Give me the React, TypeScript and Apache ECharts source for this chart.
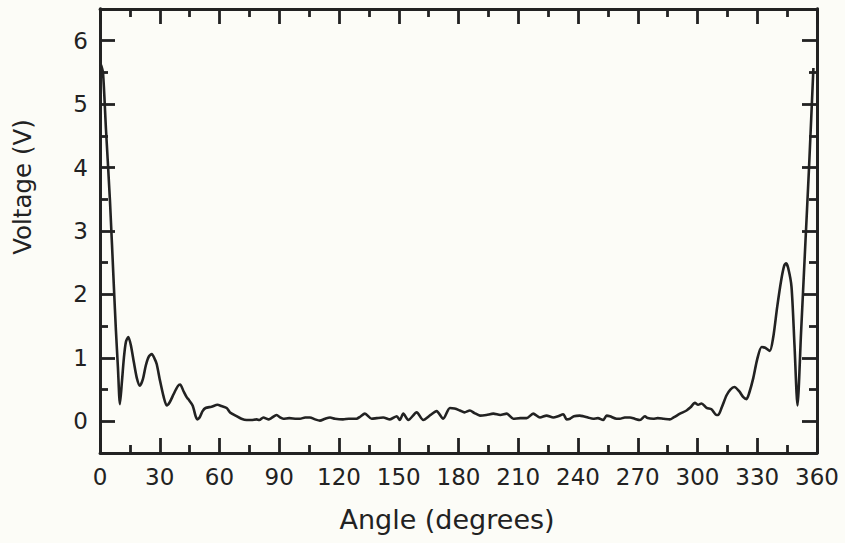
import React, { useEffect, useRef } from "react";
import * as echarts from "echarts";

const angles = [
  0.5, 1.5, 3, 5, 7, 8, 9, 10, 11, 12, 13, 14.2, 15.5, 17, 18.5, 20, 21.5, 23, 24.5, 26, 27.5, 28.5, 30, 32,
  33.5, 35, 37, 39, 40.2, 42, 43.5, 44.3, 46.5, 48, 48.8, 50, 51.5, 53, 56, 59, 61, 63.6, 65.3, 68.6, 71,
  73.6, 76, 78.6, 80, 82, 84.5, 86, 88.7, 90.4, 92, 95, 98.7, 100.4, 103, 105.4, 108, 110.4, 113, 115.5,
  118, 122, 125, 128.8, 130.5, 133, 136.4, 139, 142.2, 145.6, 149, 150.5, 152.3, 154.8, 159, 162.3, 166,
  169, 172.3, 175.7, 178, 180.7, 183, 185.7, 188, 190.8, 194, 197.5, 201, 204.2, 207.5, 211, 214.2, 217.5,
  220.9, 224.2, 227.6, 230, 232.6, 234.3, 236, 238, 240.9, 242.6, 245, 247.6, 250, 252.6, 254.4, 256,
  259.4, 261, 263.5, 266.1, 268.5, 271.1, 273.6, 275, 277.8, 280, 283, 286.1, 288, 291.2, 294.5, 296.5,
  298.7, 300.3, 302, 304.6, 307, 309.6, 310.4, 312.2, 314.6, 316.5, 318.5, 321, 323, 324.6, 326, 328, 330,
  332.2, 334, 336.3, 338, 340, 342, 343.5, 344.4, 345.5, 347.2, 348.7, 350.2, 352, 354, 356, 358.2
];

const voltages = [
  5.62, 5.5, 4.6, 3.48, 2.1, 1.43, 0.85, 0.27, 0.62, 1.0, 1.25, 1.33, 1.2, 0.93, 0.68, 0.56, 0.66, 0.88,
  1.02, 1.06, 0.98, 0.9, 0.66, 0.38, 0.25, 0.3, 0.43, 0.55, 0.58, 0.47, 0.38, 0.35, 0.25, 0.08, 0.03, 0.06,
  0.16, 0.21, 0.23, 0.26, 0.24, 0.21, 0.14, 0.08, 0.04, 0.02, 0.02, 0.03, 0.02, 0.06, 0.03, 0.05, 0.1, 0.06,
  0.04, 0.05, 0.04, 0.04, 0.06, 0.06, 0.03, 0.01, 0.04, 0.06, 0.04, 0.03, 0.04, 0.04, 0.07, 0.12, 0.04, 0.05,
  0.06, 0.03, 0.08, 0.02, 0.12, 0.02, 0.14, 0.02, 0.1, 0.16, 0.04, 0.21, 0.2, 0.17, 0.14, 0.17, 0.13, 0.09,
  0.1, 0.12, 0.1, 0.12, 0.04, 0.05, 0.05, 0.12, 0.06, 0.09, 0.06, 0.08, 0.11, 0.03, 0.04, 0.08, 0.09, 0.08,
  0.06, 0.04, 0.05, 0.02, 0.09, 0.08, 0.04, 0.04, 0.06, 0.06, 0.04, 0.02, 0.08, 0.05, 0.04, 0.05, 0.04, 0.03,
  0.06, 0.12, 0.17, 0.22, 0.29, 0.26, 0.28, 0.21, 0.19, 0.1, 0.1, 0.22, 0.41, 0.5, 0.54, 0.47, 0.38, 0.35,
  0.45, 0.68, 0.98, 1.17, 1.16, 1.11, 1.32, 1.8, 2.22, 2.45, 2.49, 2.42, 2.12, 1.2, 0.25, 1.4, 2.7, 4.0, 5.57
];

const xTickValues = [0, 30, 60, 90, 120, 150, 180, 210, 240, 270, 300, 330, 360];
const yMajorTicks = [0, 1, 2, 3, 4, 5, 6];
const yMinorTicks = [0.5, 1.5, 2.5, 3.5, 4.5, 5.5];
const xTitle = "Angle (degrees)";
const yTitle = "Voltage (V)";

const INK = "#222222";
const FONT = "DejaVu Sans";

export default function App() {
  const ref = useRef<HTMLDivElement>(null);
  useEffect(() => {
    if (!ref.current) return;
    const chart = echarts.init(ref.current, null, { renderer: "svg" });
    const lineStyle = { color: INK, width: 2.8 };
    const xBase = {
      type: "value",
      min: xTickValues[0],
      max: xTickValues[xTickValues.length - 1],
      interval: 30,
      splitLine: { show: false },
      axisLine: { show: true, onZero: false, lineStyle },
      axisTick: { show: true, inside: true, length: 15, lineStyle },
      minorTick: { show: true, splitNumber: 2, length: 8, lineStyle },
      minorSplitLine: { show: false },
    };
    const yBase = (pos: string, major: boolean, labels: boolean) => ({
      type: "value",
      position: pos,
      min: -0.5,
      max: 6.5,
      splitLine: { show: false },
      axisLine: { show: true, onZero: false, lineStyle },
      axisTick: {
        show: true,
        inside: true,
        length: major ? 15 : 8,
        customValues: major ? yMajorTicks : yMinorTicks,
        lineStyle,
      },
      axisLabel: labels
        ? {
            show: true,
            customValues: yMajorTicks,
            margin: 12,
            color: INK,
            fontFamily: FONT,
            fontSize: 23,
          }
        : { show: false },
    });
    chart.setOption({
      animation: false,
      backgroundColor: "#fcfcf7",
      grid: { left: 100, right: 28, top: 9, bottom: 90, containLabel: false },
      xAxis: [
        {
          ...xBase,
          position: "bottom",
          axisLabel: {
            show: true,
            margin: 12,
            color: INK,
            fontFamily: FONT,
            fontSize: 23,
            showMinLabel: true,
            showMaxLabel: true,
          },
        },
        { ...xBase, position: "top", axisLabel: { show: false } },
      ],
      yAxis: [
        yBase("left", true, true),
        yBase("left", false, false),
        yBase("right", true, false),
        yBase("right", false, false),
      ],
      graphic: [
        {
          type: "text",
          x: 447,
          y: 519,
          style: {
            text: xTitle,
            textAlign: "center",
            textVerticalAlign: "middle",
            fontFamily: FONT,
            fontSize: 27,
            fill: INK,
          },
        },
        {
          type: "text",
          x: 22,
          y: 187,
          rotation: Math.PI / 2,
          style: {
            text: yTitle,
            textAlign: "center",
            textVerticalAlign: "middle",
            fontFamily: FONT,
            fontSize: 24.5,
            fill: INK,
          },
        },
      ],
      series: [
        {
          type: "line",
          data: angles.map((a, i) => [a, voltages[i]]),
          showSymbol: false,
          smooth: 0.25,
          lineStyle: { color: INK, width: 2.6 },
          clip: true,
        },
      ],
    });
    return () => chart.dispose();
  }, []);
  return (
    <div
      ref={ref}
      style={{ position: "fixed", left: 0, top: 0, width: 845, height: 543 }}
    />
  );
}
